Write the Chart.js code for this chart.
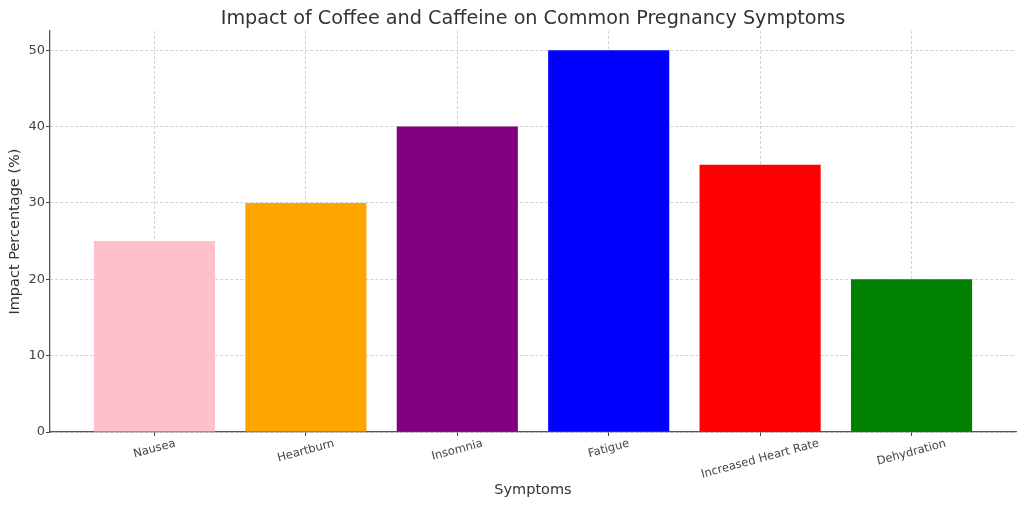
<!DOCTYPE html>
<html>
<head>
<meta charset="utf-8">
<script src="https://cdn.jsdelivr.net/npm/chart.js@4/dist/chart.umd.min.js"></script>
<style>
  body { margin: 0; background: #fff; }
  #wrap { width: 1024px; height: 508px; }
</style>
</head>
<body>
<div id="wrap"><canvas id="chart"></canvas></div>
<script>
// data
const symptoms = ['Nausea', 'Heartburn', 'Insomnia', 'Fatigue', 'Increased Heart Rate', 'Dehydration'];
const impact = [25, 30, 40, 50, 35, 20];
const barColors = ['pink', 'orange', 'purple', 'blue', 'red', 'green'];
const yTicks = [0, 10, 20, 30, 40, 50];

Chart.defaults.font.family = "'DejaVu Sans', sans-serif";

// matplotlib-like centred, rotated category labels
const rotatedLabels = {
    id: 'rotatedLabels',
    afterDraw(chart) {
        const ctx = chart.ctx;
        const x = chart.scales.x;
        const ang = 15 * Math.PI / 180;
        const size = 11.5;
        ctx.save();
        ctx.font = size + "px 'DejaVu Sans'";
        ctx.fillStyle = '#444';
        ctx.textAlign = 'center';
        ctx.textBaseline = 'middle';
        symptoms.forEach((s, i) => {
            const w = ctx.measureText(s).width;
            const h = size * 1.15;
            const bbH = w * Math.sin(ang) + h * Math.cos(ang);
            ctx.save();
            ctx.translate(x.getPixelForValue(i), x.top + 5 + bbH / 2);
            ctx.rotate(-ang);
            ctx.fillText(s, 0, 0);
            ctx.restore();
        });
        ctx.restore();
    }
};

const gridOpts = {
    color: 'rgba(160,160,160,0.6)',
    lineWidth: 0.8,
    offset: false,
    tickLength: 4,
    tickColor: '#444',
    tickBorderDash: [],
    tickWidth: 1
};

const ctx = document.getElementById('chart').getContext('2d');
new Chart(ctx, {
    type: 'bar',
    data: {
        datasets: [{
            data: impact.map((v, i) => ({ x: i, y: v })),
            backgroundColor: barColors,
            barPercentage: 0.8,
            categoryPercentage: 1.0
        }]
    },
    options: {
        responsive: true,
        maintainAspectRatio: false,
        animation: false,
        layout: { padding: { left: 0, right: 8, top: 0, bottom: 0 } },
        plugins: {
            legend: { display: false },
            tooltip: { enabled: false },
            title: {
                display: true,
                fullSize: false,
                text: 'Impact of Coffee and Caffeine on Common Pregnancy Symptoms',
                color: '#333',
                font: { size: 19.2, weight: 'normal', lineHeight: 1.2 },
                padding: { top: 7, bottom: 1 }
            }
        },
        scales: {
            x: {
                type: 'linear',
                min: -0.69,
                max: 5.69,
                offset: false,
                z: 1,
                ticks: { stepSize: 1, includeBounds: false, display: false },
                grid: gridOpts,
                border: { color: '#555', width: 1.3, dash: [3, 2] },
                title: {
                    display: true,
                    text: 'Symptoms',
                    color: '#333',
                    font: { size: 14.5 },
                    padding: { top: 4, bottom: 9 }
                },
                afterFit: s => { s.height = 76; }
            },
            y: {
                min: 0,
                max: 52.5,
                z: 1,
                afterBuildTicks: s => { s.ticks = yTicks.map(v => ({ value: v })); },
                ticks: { color: '#444', font: { size: 13 }, padding: 1 },
                grid: gridOpts,
                border: { color: '#555', width: 1.3, dash: [3, 2] },
                title: {
                    display: true,
                    text: 'Impact Percentage (%)',
                    color: '#333',
                    font: { size: 14.5 },
                    padding: 7
                },
                afterFit: s => { s.width = 50; }
            }
        }
    },
    plugins: [rotatedLabels]
});
</script>
</body>
</html>
